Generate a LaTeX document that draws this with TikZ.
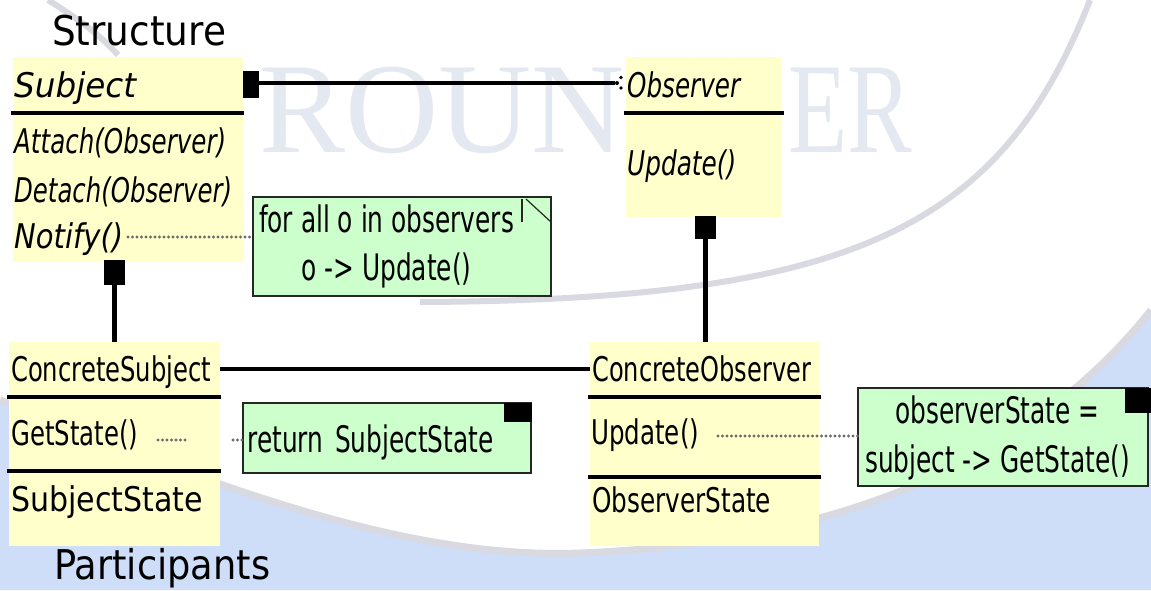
\documentclass[tikz,border=0pt]{standalone}
\usepackage{fontspec}
\usepackage{graphicx}
\newfontfamily\boxfont{DejaVu Sans}
\newfontfamily\notefont[FakeStretch=0.68]{DejaVu Sans}
\newfontfamily\headfont{DejaVu Sans}
\newfontfamily\wmfont{Liberation Serif}
\newcommand{\fitto}[2]{\resizebox{#1}{\height}{#2}}
\definecolor{classfill}{HTML}{FFFFCC}
\definecolor{notefill}{HTML}{CCFFCC}
\definecolor{bgblue}{HTML}{CEDEF8}
\definecolor{arcgrey}{HTML}{D9D9E1}
\definecolor{wmcol}{HTML}{E4E8F0}
\usetikzlibrary{calc}
\begin{document}
\begin{tikzpicture}[x=1pt,y=-1pt,
  classbox/.style={fill=classfill, draw=none, inner sep=0pt, outer sep=0pt, anchor=north west},
  notebox/.style={fill=notefill, draw=black!85, line width=1.2pt, inner sep=0pt, outer sep=0pt, anchor=north west},
  member/.style={font=\boxfont\fontsize{34}{40}\selectfont, inner sep=0pt, anchor=base west},
  imember/.style={font=\boxfont\itshape\fontsize{34}{40}\selectfont, inner sep=0pt, anchor=base west},
  notetext/.style={font=\notefont\fontsize{36.5}{42}\selectfont, inner sep=0pt, anchor=base},
  heading/.style={font=\headfont\fontsize{41}{48}\selectfont, inner sep=0pt, anchor=base west},
  wmark/.style={font=\wmfont\fontsize{129}{135}\selectfont, text=wmcol, inner sep=0pt, anchor=base west},
  sepline/.style={line width=4pt},
  assoc/.style={line width=4.5pt},
  marker/.style={fill=black, draw=none, inner sep=0pt, outer sep=0pt, anchor=north west},
  dotline/.style={draw=black!58, line width=3.2pt, line cap=round, dash pattern=on 0pt off 4.5pt},
  fold/.style={line width=1.2pt, draw=black!85},
]
\useasboundingbox (0,0) rectangle (1151,590);
% background
\fill[white] (0,0) rectangle (1151,590);
\fill[bgblue] (0,400) .. controls (200,480) and (400,560) .. (580,553)
  .. controls (760,546) and (1000,500) .. (1151,310) -- (1151,590) -- (0,590) -- cycle;
\draw[arcgrey, line width=7pt] (0,400) .. controls (200,480) and (400,560) .. (580,553)
  .. controls (760,546) and (1000,500) .. (1151,310);
\draw[arcgrey, line width=6pt] (1090,0) .. controls (1000,230) and (850,300) .. (420,302);
\draw[arcgrey, line width=6pt] (48,0) .. controls (80,20) and (100,35) .. (118,55);
\node[wmark] (wm1) at (259,152) {ROUN};
\node[wmark] (wm2) at (788,152) {\fitto{124pt}{ER}};

% headings
\node[heading] (hstruct) at (52,45) {\fitto{174pt}{Structure}};
\node[heading] (hpart) at (54,579) {\fitto{216pt}{Participants}};

% Subject class
\node[classbox, minimum width=230pt, minimum height=205pt] (subject) at (13,57) {};
\draw[sepline] (11,113) -- (244,113);
\node[imember] (tsubj) at (14,97) {\fitto{122pt}{Subject}};
\node[imember] (tattach) at (14,153) {\fitto{212pt}{Attach(Observer)}};
\node[imember] (tdetach) at (14,202) {\fitto{218pt}{Detach(Observer)}};
\node[imember] (tnotify) at (14,248) {\fitto{109pt}{Notify()}};

% Observer class
\node[classbox, minimum width=156pt, minimum height=160pt] (observer) at (626,57) {};
\draw[sepline] (624,113) -- (784,113);
\node[imember] (tobs) at (627,97) {\fitto{113pt}{Observer}};
\node[imember] (tobsupd) at (627,175) {\fitto{109pt}{Update()}};

% ConcreteSubject class
\node[classbox, minimum width=211pt, minimum height=204pt] (cs) at (9,342) {};
\draw[sepline] (7,397) -- (221,397);
\draw[sepline] (7,471) -- (221,471);
\node[member] (tcs) at (11,381) {\fitto{200pt}{ConcreteSubject}};
\node[member] (tget) at (11,445) {\fitto{127pt}{GetState()}};
\node[member] (tss) at (11,511) {\fitto{192pt}{SubjectState}};

% ConcreteObserver class
\node[classbox, minimum width=229pt, minimum height=204pt] (co) at (590,342) {};
\draw[sepline] (588,397) -- (821,397);
\draw[sepline] (588,477) -- (821,477);
\node[member] (tco) at (592,381) {\fitto{219pt}{ConcreteObserver}};
\node[member] (tcoupd) at (591,444) {\fitto{108pt}{Update()}};
\node[member] (tos) at (592,512) {\fitto{179pt}{ObserverState}};

% notes
\node[notebox, minimum width=298pt, minimum height=99pt] (note1) at (253,197) {};
\draw[fold] (522,199) -- (522,222);
\draw[fold] (526,199) -- (551,222);
\node[notetext] (n1a) at (386.5,232) {for all o in observers};
\node[notetext] (n1b) at (386.5,280) {o -> Update()};

\node[notebox, minimum width=288pt, minimum height=70pt] (note2) at (243,403) {};
\node[marker, minimum width=28pt, minimum height=19pt] (sq2) at (504,403) {};
\node[notetext] (n2) at (370.5,452) {return\hspace{4pt} SubjectState};

\node[notebox, minimum width=290pt, minimum height=98pt] (note3) at (858,388) {};
\node[marker, minimum width=26pt, minimum height=25pt] (sq3) at (1125,388) {};
\node[notetext] (n3a) at (997.5,423) {observerState =};
\node[notetext] (n3b) at (997.5,472) {subject -> GetState()};

% association Subject - Observer
\node[marker, minimum width=16pt, minimum height=27pt] (aggsq) at (243,71) {};
\coordinate (obsend) at (615,83);
\draw[assoc] (aggsq.east |- obsend) -- (obsend);
\fill (617,83) circle (2pt);
\fill (621,77.5) circle (1.8pt);
\fill (621,88) circle (1.8pt);

% generalisations
\node[marker, minimum width=21pt, minimum height=25pt] (inh1) at (104,260) {};
\node[marker, minimum width=21pt, minimum height=23pt] (inh2) at (695,216) {};
\draw[assoc] (inh1.south) -- (inh1.south |- cs.north);
\draw[assoc] (inh2.south) -- (inh2.south |- co.north);

% association ConcreteSubject - ConcreteObserver
\coordinate (cslink) at (220,369);
\draw[assoc] (cs.east |- cslink) -- (co.west |- cslink);

% note links
\coordinate (d1) at (128,237);
\draw[dotline] (d1) -- (note1.west |- d1);
\coordinate (d2a) at (158,440);
\coordinate (d2b) at (188,440);
\draw[dotline] (d2a) -- (d2b);
\coordinate (d2c) at (233,440);
\draw[dotline] (d2c) -- (note2.west |- d2c);
\coordinate (d3) at (718,436);
\draw[dotline] (d3) -- (note3.west |- d3);
\end{tikzpicture}
\end{document}
